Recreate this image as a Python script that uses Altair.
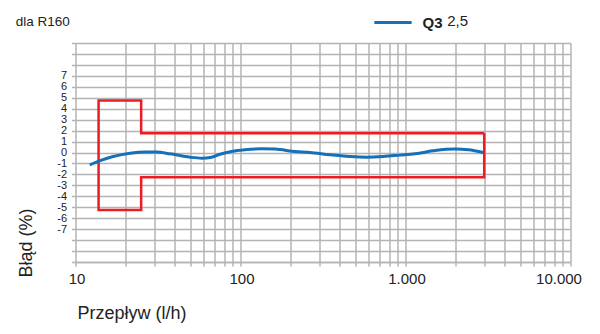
import altair as alt
import pandas as pd

# ---- data ----
curve_flow = [12.2, 14.1, 16.9, 21.4, 27.0, 31.0, 37.4, 49.4, 58.2, 66.8, 73.4, 88.4,
              106.4, 134, 162, 214, 264, 348, 461, 582, 733, 926, 1142, 1511, 1995, 2403, 2962]
curve_err = [-1.13, -0.74, -0.37, -0.06, 0.04, 0.04, -0.12, -0.43, -0.52, -0.43, -0.21, 0.09,
             0.25, 0.34, 0.31, 0.09, 0.0, -0.21, -0.37, -0.43, -0.37, -0.24, -0.12, 0.18, 0.31, 0.25, 0.0]

box_flow = [3000, 25, 25, 13.8, 13.8, 25, 25, 3000, 3000]
box_err = [1.75, 1.75, 4.75, 4.75, -5.25, -5.25, -2.25, -2.25, 1.75]

series_name = ["Q3"]
series_value = ["2,5"]
corner_note = ["dla R160"]

x_grid = [m * 10 ** e for e in range(1, 4) for m in range(1, 10)] + [10000]
y_grid = list(range(-10, 11))

BLUE = "#1570b8"
RED = "#ec1c24"
GRID = "#b4b4b4"
TXT = "#222222"
FONT = "Liberation Sans"

curve = pd.DataFrame({"flow": curve_flow, "err": curve_err, "series": series_name[0]})
box = pd.DataFrame({"flow": box_flow, "err": box_err, "i": list(range(len(box_flow)))})
legend_txt = pd.DataFrame({"t": series_value})
note_txt = pd.DataFrame({"t": corner_note})

x_axis = alt.Axis(
    values=x_grid,
    labelExpr="(datum.value == 10 || datum.value == 100 || datum.value == 1000 || datum.value == 10000) ? replace(format(datum.value, ','), ',', '.') : ''",
    labelOverlap=False,
    labelFlush=False,
    labelFontSize=15,
    labelColor=TXT,
    labelFont=FONT,
    labelPadding=5,
    labelOffset={"condition": {"test": "datum.value >= 9999", "value": -12}, "value": 1},
    tickSize=4,
    tickColor=GRID,
    tickWidth=1.5,
    gridColor=GRID,
    gridWidth=1.5,
    domainColor=GRID,
    domainWidth=1.5,
    title="Przepływ (l/h)",
    titleFontSize=18,
    titleFontWeight="normal",
    titleFont=FONT,
    titleColor=TXT,
    titleAlign="left",
    titleBaseline="alphabetic",
    titleX=1.5,
    titleY=56,
)

y_axis = alt.Axis(
    values=y_grid,
    labelExpr="abs(datum.value) <= 7 ? datum.value + '' : ''",
    labelOverlap=False,
    labelFontSize=11,
    labelColor=TXT,
    labelFont=FONT,
    labelPadding=5,
    tickSize=4,
    tickColor=GRID,
    tickWidth=1.5,
    gridColor=GRID,
    gridWidth=1.5,
    domain=False,
    title="Błąd (%)",
    titleFontSize=18,
    titleFontWeight="normal",
    titleFont=FONT,
    titleColor=TXT,
    titleAngle=270,
    titleAlign="left",
    titleBaseline="alphabetic",
    titleX=-44,
    titleY=234,
)

xs = alt.Scale(type="log", domain=[10, 10000], nice=False)
ys = alt.Scale(domain=[-10, 10], nice=False)

box_layer = alt.Chart(box).mark_line(color=RED, strokeWidth=2.5, strokeJoin="miter").encode(
    x=alt.X("flow:Q", scale=xs, axis=x_axis),
    y=alt.Y("err:Q", scale=ys, axis=y_axis),
    order="i:Q",
)

curve_layer = alt.Chart(curve).mark_line(strokeWidth=3, interpolate="monotone").encode(
    x=alt.X("flow:Q", scale=xs, axis=x_axis),
    y=alt.Y("err:Q", scale=ys, axis=y_axis),
    color=alt.Color(
        "series:N",
        scale=alt.Scale(domain=series_name, range=[BLUE]),
        legend=alt.Legend(
            orient="none",
            legendX=297,
            legendY=-41,
            title=None,
            symbolType="stroke",
            symbolSize=1390,
            symbolStrokeWidth=3,
            labelFontSize=15,
            labelFontWeight="bold",
            labelFont=FONT,
            labelColor=TXT,
            labelOffset=9,
        ),
    ),
)

legend_value = alt.Chart(legend_txt).mark_text(
    align="left", baseline="alphabetic", fontSize=15, font=FONT, color=TXT
).encode(x=alt.value(371.7), y=alt.value(-17), text="t:N")

note = alt.Chart(note_txt).mark_text(
    align="left", baseline="alphabetic", fontSize=13.5, font=FONT, color=TXT
).encode(x=alt.value(-59.8), y=alt.value(-17), text="t:N")

chart = alt.layer(box_layer, curve_layer, legend_value, note).properties(
    width=495,
    height=219,
    autosize=alt.AutoSizeParams(type="none"),
    padding={"left": 75.5, "top": 43, "right": 29.5, "bottom": 72},
).configure_view(strokeWidth=0)

chart.save("out.html", embed_options={"renderer": "svg", "actions": False})
